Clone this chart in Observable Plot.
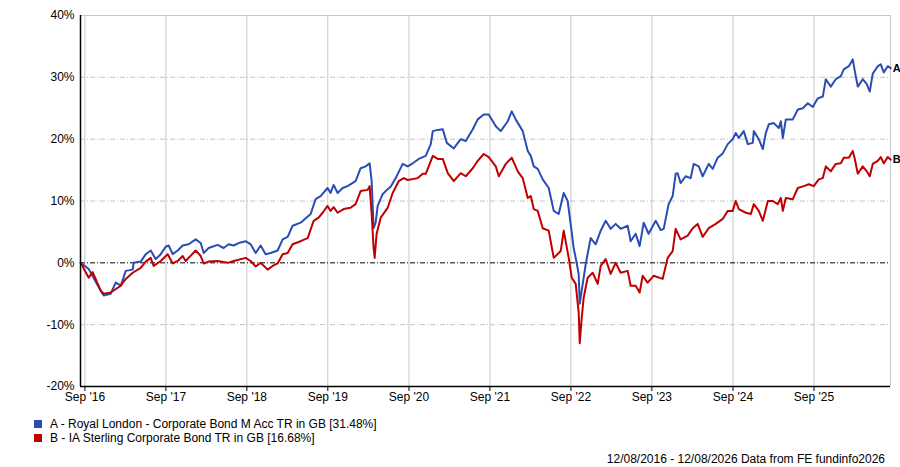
<!DOCTYPE html>
<html>
<head>
<meta charset="utf-8">
<script src="https://cdn.jsdelivr.net/npm/d3@7"></script>
<script src="https://cdn.jsdelivr.net/npm/@observablehq/plot@0.6"></script>
<style>
  html, body { margin: 0; padding: 0; background: #fff; }
  body { width: 900px; height: 467px; position: relative; font-family: "Liberation Sans", Arial, sans-serif; font-size: 12px; color: #000; overflow: hidden; }
  #chart { position: absolute; left: 0; top: 0; }
  .legend { position: absolute; left: 34px; top: 417px; }
  .legend .row { height: 14px; line-height: 14px; white-space: nowrap; }
  .legend .sw { display: inline-block; width: 8px; height: 8px; margin-right: 8px; vertical-align: -0px; }
  .footer { position: absolute; right: 15px; top: 452px; white-space: nowrap; }
</style>
</head>
<body>
<div id="chart"></div>
<div class="legend" id="legend"></div>
<div class="footer">12/08/2016 - 12/08/2026 Data from FE fundinfo2026</div>
<script>
// ---- Data (decimal years, % total return) ----
const seriesNames = [
  "A - Royal London - Corporate Bond M Acc TR in GB [31.48%]",
  "B - IA Sterling Corporate Bond TR in GB [16.68%]"
];
const seriesKeys = ["A", "B"];
const seriesColors = ["#2a4db5", "#c00000"];

const aYears = [2016.614,2016.713,2016.861,2016.898,2016.984,2017.046,2017.108,2017.170,2017.256,2017.268,2017.355,2017.417,2017.478,2017.540,2017.602,2017.663,2017.700,2017.750,2017.812,2017.873,2017.947,2018.034,2018.096,2018.133,2018.194,2018.305,2018.379,2018.441,2018.503,2018.565,2018.651,2018.713,2018.775,2018.836,2018.898,2018.960,2019.046,2019.108,2019.170,2019.231,2019.330,2019.454,2019.515,2019.577,2019.663,2019.700,2019.738,2019.787,2019.849,2019.910,2020.009,2020.071,2020.133,2020.182,2020.207,2020.231,2020.256,2020.281,2020.342,2020.379,2020.441,2020.503,2020.589,2020.651,2020.713,2020.787,2020.873,2020.935,2020.960,2021.021,2021.083,2021.133,2021.219,2021.305,2021.367,2021.454,2021.515,2021.589,2021.651,2021.738,2021.799,2021.886,2021.935,2021.984,2022.071,2022.133,2022.170,2022.207,2022.256,2022.318,2022.392,2022.454,2022.515,2022.577,2022.626,2022.663,2022.700,2022.725,2022.762,2022.775,2022.812,2022.849,2022.910,2022.972,2023.034,2023.096,2023.157,2023.219,2023.281,2023.367,2023.404,2023.466,2023.515,2023.565,2023.626,2023.713,2023.775,2023.812,2023.873,2023.923,2023.960,2023.984,2024.021,2024.083,2024.145,2024.182,2024.244,2024.293,2024.367,2024.417,2024.478,2024.540,2024.602,2024.663,2024.700,2024.738,2024.799,2024.849,2024.910,2024.923,2024.984,2025.034,2025.071,2025.108,2025.170,2025.231,2025.256,2025.281,2025.318,2025.404,2025.466,2025.528,2025.589,2025.651,2025.713,2025.775,2025.812,2025.873,2025.935,2025.997,2026.034,2026.096,2026.145,2026.170,2026.207,2026.268,2026.318,2026.355,2026.392,2026.454,2026.491,2026.528,2026.577,2026.614];
const aValues = [0,-1.0,-4.5,-5.3,-5.0,-3.2,-3.7,-1.3,-1.1,0.0,0.2,1.4,2.0,0.6,1.4,2.6,2.8,1.4,2.0,2.8,3.0,3.8,3.2,1.6,2.4,2.9,2.4,3.0,2.8,3.2,3.5,3.0,1.6,2.8,1.4,1.6,2.0,3.8,4.2,6.0,6.5,7.9,10.3,10.8,12.1,11.3,12.6,11.3,12.1,12.4,13.2,15.3,15.6,16.1,13.2,5.6,6.5,9.2,11.1,11.6,12.3,13.7,16.0,15.6,16.1,16.8,17.3,19.2,21.3,21.5,21.6,19.4,18.5,20.0,19.7,21.6,23.2,24.0,24.0,22.1,21.3,22.9,24.5,23.2,21.3,18.1,17.3,15.6,15.2,13.5,12.1,8.4,7.9,11.3,10.0,6.3,2.4,0.8,-1.8,-6.6,-3.4,-0.2,4.0,3.0,5.2,6.8,5.5,6.3,5.5,6.0,3.5,4.7,2.7,6.5,4.7,6.8,5.3,5.5,9.5,10.8,14.4,14.5,12.9,14.0,13.7,16.0,15.6,14.0,16.0,15.2,17.0,17.7,19.2,20.0,21.0,20.2,21.3,19.2,19.4,21.3,20.0,18.4,21.0,22.4,22.6,21.8,22.9,20.2,23.2,23.2,24.8,25.0,25.8,25.2,26.6,26.9,29.7,28.5,29.7,30.2,31.3,31.8,32.9,31.0,28.5,29.7,28.9,27.7,30.6,31.8,32.1,30.8,31.8,31.48];

const bYears = [2016.614,2016.713,2016.762,2016.861,2016.898,2016.984,2017.108,2017.170,2017.256,2017.355,2017.417,2017.478,2017.515,2017.602,2017.688,2017.750,2017.812,2017.873,2017.910,2017.947,2018.034,2018.096,2018.133,2018.194,2018.305,2018.429,2018.503,2018.651,2018.713,2018.775,2018.836,2018.923,2018.984,2019.046,2019.108,2019.170,2019.231,2019.330,2019.417,2019.491,2019.552,2019.602,2019.663,2019.700,2019.738,2019.787,2019.861,2019.947,2020.009,2020.071,2020.157,2020.182,2020.207,2020.231,2020.244,2020.268,2020.318,2020.404,2020.466,2020.540,2020.602,2020.651,2020.775,2020.836,2020.873,2020.910,2020.960,2021.021,2021.083,2021.145,2021.219,2021.305,2021.367,2021.454,2021.515,2021.589,2021.651,2021.738,2021.775,2021.861,2021.935,2022.009,2022.071,2022.133,2022.170,2022.207,2022.256,2022.318,2022.392,2022.454,2022.540,2022.577,2022.639,2022.676,2022.725,2022.762,2022.775,2022.799,2022.824,2022.873,2022.935,2022.997,2023.034,2023.096,2023.157,2023.219,2023.281,2023.367,2023.404,2023.466,2023.515,2023.552,2023.614,2023.688,2023.799,2023.861,2023.923,2023.960,2024.021,2024.108,2024.170,2024.231,2024.293,2024.367,2024.454,2024.540,2024.602,2024.663,2024.700,2024.738,2024.824,2024.886,2024.923,2024.984,2025.034,2025.096,2025.157,2025.219,2025.256,2025.281,2025.318,2025.404,2025.466,2025.540,2025.602,2025.663,2025.725,2025.775,2025.812,2025.873,2025.935,2025.997,2026.034,2026.096,2026.145,2026.170,2026.207,2026.268,2026.318,2026.355,2026.392,2026.454,2026.491,2026.528,2026.577,2026.614];
const bValues = [0,-2.4,-1.5,-4.5,-5.0,-4.8,-3.7,-2.6,-1.6,-0.8,0.2,0.8,-0.5,0.3,1.4,-0.1,0.3,1.1,0.3,0.8,2.0,1.1,-0.1,0.2,0.3,0.0,0.3,0.8,0.3,-0.6,0.0,-1.1,-0.5,-0.1,1.4,1.6,3.0,3.5,4.0,6.8,7.3,8.1,9.2,8.4,9.0,8.1,8.7,8.9,9.5,11.6,11.8,12.4,7.9,2.4,0.8,4.7,7.3,8.9,11.3,13.2,13.7,13.4,13.7,14.4,14.4,15.6,17.3,16.8,16.8,14.5,13.2,14.5,14.0,15.3,16.5,17.6,17.1,15.6,14.0,16.0,17.0,14.8,13.7,10.5,10.8,8.7,8.4,5.6,5.2,0.8,1.9,5.2,0.8,-2.4,-3.4,-8.0,-13.0,-9.0,-5.6,-2.4,-1.6,-3.4,-0.5,0.6,-1.8,0.0,-1.6,-1.3,-3.7,-3.7,-4.8,-2.1,-3.2,-2.1,-2.6,0.8,1.9,5.5,3.8,4.4,5.6,6.3,4.2,5.6,6.3,7.1,8.4,8.4,10.0,8.7,8.1,7.9,9.5,8.4,6.8,10.0,10.0,9.5,10.5,8.4,10.5,10.3,12.1,12.4,12.7,12.4,13.5,13.7,15.6,14.8,16.0,16.1,17.0,17.0,18.1,16.8,14.4,15.6,14.8,14.0,16.0,16.5,17.1,16.1,17.1,16.68];

const yTicks = [-20, -10, 0, 10, 20, 30, 40];
const xTickYears = [2016, 2017, 2018, 2019, 2020, 2021, 2022, 2023, 2024, 2025];
const startDate = "2016-08-12";
const endDate = "2026-08-12";

// ---- Build ----
function fromDecimal(t) {
  const y = Math.floor(t);
  const s = Date.UTC(y, 0, 1), e = Date.UTC(y + 1, 0, 1);
  return new Date(s + (t - y) * (e - s));
}
const rows = [];
aYears.forEach((t, i) => rows.push({key: "A", date: fromDecimal(t), value: aValues[i]}));
bYears.forEach((t, i) => rows.push({key: "B", date: fromDecimal(t), value: bValues[i]}));
const lastPts = seriesKeys.map(k => rows.filter(r => r.key === k).slice(-1)[0]);

const x0 = new Date(startDate), x1 = new Date(endDate);
const xTicks = xTickYears.map(y => new Date(Date.UTC(y, 8, 1)));
const fmtTick = d => "Sep '" + String(d.getUTCFullYear()).slice(2);
const dash = "5,2,1,2";

const chart = Plot.plot({
  width: 900,
  height: 405,
  marginTop: 15,
  marginBottom: 19,
  marginLeft: 80,
  marginRight: 10,
  style: {fontFamily: "'Liberation Sans', Arial, sans-serif", fontSize: "12px", color: "#000", background: "#fff", overflow: "visible"},
  x: {type: "utc", domain: [x0, x1]},
  y: {domain: [-20, 40]},
  color: {domain: seriesKeys, range: seriesColors},
  marks: [
    Plot.ruleX(xTicks, {stroke: "#c8c8c8", strokeWidth: 1}),
    Plot.ruleX([x1], {stroke: "#c8c8c8", strokeWidth: 1}),
    Plot.ruleY(yTicks.filter(v => v !== 0 && v !== -20 && v !== 40), {stroke: "#c4c4c4", strokeDasharray: dash}),
    Plot.ruleY([40], {stroke: "#c8c8c8"}),
    Plot.ruleY([0], {stroke: "#000", strokeDasharray: dash}),
    Plot.line(rows, {x: "date", y: "value", z: "key", stroke: "key", strokeWidth: 2, curve: "linear"}),
    Plot.text(lastPts, {x: "date", y: "value", text: "key", dx: 2, textAnchor: "start", fontWeight: "bold", fontSize: 11, fill: "#000"}),
    Plot.ruleX([x0], {stroke: "#000", strokeWidth: 1.5}),
    Plot.ruleY([-20], {stroke: "#000", strokeWidth: 1.5}),
    Plot.axisY({ticks: yTicks, tickSize: 0, tickPadding: 6, tickFormat: d => d + "%", fontSize: 12, label: null}),
    Plot.axisX({ticks: xTicks, tickSize: 5, tickPadding: 1, tickFormat: fmtTick, fontSize: 12, stroke: "#000", label: null})
  ]
});
document.getElementById("chart").appendChild(chart);

const legend = document.getElementById("legend");
seriesNames.forEach((name, i) => {
  const row = document.createElement("div");
  row.className = "row";
  const sw = document.createElement("span");
  sw.className = "sw";
  sw.style.background = seriesColors[i];
  row.appendChild(sw);
  row.appendChild(document.createTextNode(name));
  legend.appendChild(row);
});
</script>
</body>
</html>
